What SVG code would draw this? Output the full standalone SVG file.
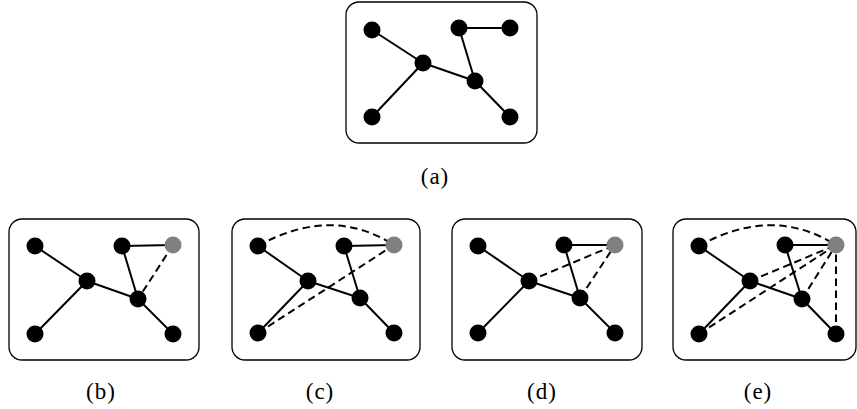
<svg xmlns="http://www.w3.org/2000/svg" width="857" height="409" viewBox="0 0 857 409">
<style>
.frame{fill:#fff;stroke:#000;stroke-width:1.3}
.e{stroke:#000;stroke-width:2;fill:none}
.d{stroke:#000;stroke-width:2;fill:none;stroke-dasharray:7.5 4.5}
.n{fill:#000}
.g{fill:#808080}
.lbl{font-family:"Liberation Serif","Times New Roman",serif;font-size:23px;letter-spacing:1px;text-anchor:middle;fill:#000}
</style>
<rect width="857" height="409" fill="#fff"/>

<!-- (a) -->
<g id="panel-a">
<rect class="frame" x="346" y="2" width="191" height="141" rx="13"/>
<g id="a-edges">
<line class="e" x1="372" y1="30" x2="423" y2="63"/>
<line class="e" x1="423" y1="63" x2="372" y2="117"/>
<line class="e" x1="423" y1="63" x2="475" y2="81"/>
<line class="e" x1="475" y1="81" x2="510" y2="117"/>
<line class="e" x1="459" y1="28" x2="510" y2="28"/>
<line class="e" x1="459" y1="28" x2="475" y2="81"/>
</g>
<g id="a-n1"><circle class="n" cx="372" cy="30" r="8.5"/></g>
<g id="a-n2"><circle class="n" cx="459" cy="28" r="8.5"/></g>
<g id="a-n3"><circle class="n" cx="510" cy="28" r="8.5"/></g>
<g id="a-n4"><circle class="n" cx="423" cy="63" r="8.5"/></g>
<g id="a-n5"><circle class="n" cx="475" cy="81" r="8.5"/></g>
<g id="a-n6"><circle class="n" cx="372" cy="117" r="8.5"/></g>
<g id="a-n7"><circle class="n" cx="510" cy="117" r="8.5"/></g>
<text class="lbl" x="435" y="184">(a)</text>
</g>

<!-- (b) -->
<g id="panel-b">
<rect class="frame" x="9" y="219" width="190" height="141" rx="13"/>
<g id="b-edges">
<line class="e" x1="35" y1="246" x2="87" y2="281"/>
<line class="e" x1="87" y1="281" x2="35" y2="334"/>
<line class="e" x1="87" y1="281" x2="138" y2="299"/>
<line class="e" x1="138" y1="299" x2="173" y2="334"/>
<line class="e" x1="122" y1="246" x2="173" y2="245"/>
<line class="e" x1="122" y1="246" x2="138" y2="299"/>
<line class="d" x1="173" y1="245" x2="138" y2="299"/>
</g>
<g id="b-n1"><circle class="n" cx="35" cy="246" r="8.5"/></g>
<g id="b-n2"><circle class="n" cx="122" cy="246" r="8.5"/></g>
<g id="b-n3"><circle class="g" cx="173" cy="245" r="8.5"/></g>
<g id="b-n4"><circle class="n" cx="87" cy="281" r="8.5"/></g>
<g id="b-n5"><circle class="n" cx="138" cy="299" r="8.5"/></g>
<g id="b-n6"><circle class="n" cx="35" cy="334" r="8.5"/></g>
<g id="b-n7"><circle class="n" cx="173" cy="334" r="8.5"/></g>
<text class="lbl" x="101" y="399">(b)</text>
</g>

<!-- (c) -->
<g id="panel-c">
<rect class="frame" x="232" y="219" width="188" height="141" rx="13"/>
<g id="c-edges">
<line class="e" x1="258" y1="246" x2="308" y2="281"/>
<line class="e" x1="308" y1="281" x2="258" y2="333"/>
<line class="e" x1="308" y1="281" x2="360" y2="298"/>
<line class="e" x1="360" y1="298" x2="394" y2="333"/>
<line class="e" x1="344" y1="246" x2="394" y2="245"/>
<line class="e" x1="344" y1="246" x2="360" y2="298"/>
<path class="d" d="M258,246 Q331,205 394,245"/>
<line class="d" x1="258" y1="333" x2="394" y2="245"/>
</g>
<g id="c-n1"><circle class="n" cx="258" cy="246" r="8.5"/></g>
<g id="c-n2"><circle class="n" cx="344" cy="246" r="8.5"/></g>
<g id="c-n3"><circle class="g" cx="394" cy="245" r="8.5"/></g>
<g id="c-n4"><circle class="n" cx="308" cy="281" r="8.5"/></g>
<g id="c-n5"><circle class="n" cx="360" cy="298" r="8.5"/></g>
<g id="c-n6"><circle class="n" cx="258" cy="333" r="8.5"/></g>
<g id="c-n7"><circle class="n" cx="394" cy="333" r="8.5"/></g>
<text class="lbl" x="320" y="399">(c)</text>
</g>

<!-- (d) -->
<g id="panel-d">
<rect class="frame" x="452" y="219" width="190" height="141" rx="13"/>
<g id="d-edges">
<line class="e" x1="478" y1="246" x2="529" y2="281"/>
<line class="e" x1="529" y1="281" x2="478" y2="333"/>
<line class="e" x1="529" y1="281" x2="580" y2="298"/>
<line class="e" x1="580" y1="298" x2="615" y2="333"/>
<line class="e" x1="564" y1="245" x2="615" y2="245"/>
<line class="e" x1="564" y1="245" x2="580" y2="298"/>
<line class="d" x1="529" y1="281" x2="615" y2="245"/>
<line class="d" x1="580" y1="298" x2="615" y2="245"/>
</g>
<g id="d-n1"><circle class="n" cx="478" cy="246" r="8.5"/></g>
<g id="d-n2"><circle class="n" cx="564" cy="245" r="8.5"/></g>
<g id="d-n3"><circle class="g" cx="615" cy="245" r="8.5"/></g>
<g id="d-n4"><circle class="n" cx="529" cy="281" r="8.5"/></g>
<g id="d-n5"><circle class="n" cx="580" cy="298" r="8.5"/></g>
<g id="d-n6"><circle class="n" cx="478" cy="333" r="8.5"/></g>
<g id="d-n7"><circle class="n" cx="615" cy="333" r="8.5"/></g>
<text class="lbl" x="542" y="399">(d)</text>
</g>

<!-- (e) -->
<g id="panel-e">
<rect class="frame" x="673" y="219" width="183" height="141" rx="13"/>
<g id="e-edges">
<line class="e" x1="699" y1="246" x2="750" y2="281"/>
<line class="e" x1="750" y1="281" x2="699" y2="334"/>
<line class="e" x1="750" y1="281" x2="802" y2="299"/>
<line class="e" x1="802" y1="299" x2="836" y2="334"/>
<line class="e" x1="785" y1="245" x2="836" y2="245"/>
<line class="e" x1="785" y1="245" x2="802" y2="299"/>
<path class="d" d="M699,246 Q772,205 836,245"/>
<line class="d" x1="750" y1="281" x2="836" y2="245"/>
<line class="d" x1="699" y1="334" x2="836" y2="245"/>
<line class="d" x1="802" y1="299" x2="836" y2="245"/>
<line class="d" x1="836" y1="334" x2="836" y2="245"/>
</g>
<g id="e-n1"><circle class="n" cx="699" cy="246" r="8.5"/></g>
<g id="e-n2"><circle class="n" cx="785" cy="245" r="8.5"/></g>
<g id="e-n3"><circle class="g" cx="836" cy="245" r="8.5"/></g>
<g id="e-n4"><circle class="n" cx="750" cy="281" r="8.5"/></g>
<g id="e-n5"><circle class="n" cx="802" cy="299" r="8.5"/></g>
<g id="e-n6"><circle class="n" cx="699" cy="334" r="8.5"/></g>
<g id="e-n7"><circle class="n" cx="836" cy="334" r="8.5"/></g>
<text class="lbl" x="758" y="399">(e)</text>
</g>
</svg>
